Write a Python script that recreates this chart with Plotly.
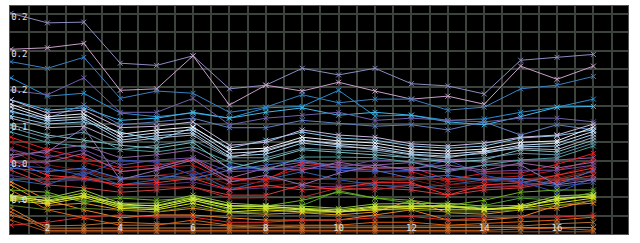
import plotly.graph_objects as go

x_vals = list(range(1, 18))

y_tick_vals = [0.246, 0.196, 0.146, 0.096, 0.046, -0.004]
y_tick_text = ["0.2", "0.2", "0.2", "0.1", "0.0", "0.0"]
x_tick_vals = [2, 4, 6, 8, 10, 12, 14, 16]

# bottom orange / brown lines
o7 = [-0.031] + [-0.047] * 16
o4 = [-0.020, -0.045, -0.045, -0.045, -0.046, -0.045, -0.045, -0.045, -0.045, -0.045, -0.045, -0.045, -0.045, -0.045, -0.043, -0.042, -0.045]
o3 = [-0.015] + [-0.042] * 15 + [-0.041]
o5 = [-0.024, -0.039, -0.038, -0.034, -0.036, -0.036, -0.039, -0.041, -0.039, -0.039, -0.039, -0.039, -0.039, -0.039, -0.039, -0.036, -0.034]
o2 = [0.010, -0.017, -0.028, -0.038, -0.038, -0.031, -0.038, -0.038, -0.038, -0.038, -0.034, -0.034, -0.038, -0.036, -0.034, -0.031, -0.027]
o1 = [0.021, -0.004, -0.017, -0.028, -0.024, -0.024, -0.028, -0.031, -0.031, -0.031, -0.024, -0.017, -0.031, -0.031, -0.027, -0.011, -0.008]
o6 = [0.017, -0.011, -0.008, -0.017, -0.020, -0.015, -0.021, -0.023, -0.021, -0.024, -0.020, -0.004, -0.021, -0.023, -0.017, -0.015, -0.004]
r7 = [-0.038, -0.034, -0.027, -0.024, -0.027, -0.027, -0.034, -0.034, -0.031, -0.031, -0.028, -0.026, -0.031, -0.028, -0.027, -0.027, -0.024]

# dark lines in the middle
d1 = [0.065, 0.037, 0.035, 0.024, 0.026, 0.030, 0.013, 0.015, 0.020, 0.018, 0.021, 0.024, 0.013, 0.017, 0.020, 0.026, 0.037]
d2 = [0.030, 0.021, 0.024, 0.017, 0.017, 0.021, 0.010, 0.013, 0.014, 0.015, 0.017, 0.017, 0.010, 0.013, 0.017, 0.020, 0.026]
d3 = [0.024, 0.017, 0.035, 0.017, 0.024, 0.037, 0.010, 0.024, 0.035, 0.024, 0.017, 0.013, 0.017, 0.024, 0.021, 0.015, 0.020]
d4 = [0.054, 0.065, 0.071, 0.054, 0.058, 0.065, 0.040, 0.040, 0.048, 0.044, 0.044, 0.048, 0.051, 0.048, 0.051, 0.051, 0.054]

# red lines
r6 = [0.067, 0.044, 0.037, 0.026, 0.030, 0.035, 0.017, 0.021, 0.026, 0.024, 0.026, 0.029, 0.017, 0.021, 0.024, 0.030, 0.044]
r5 = [0.037, 0.017, 0.013, 0.007, 0.010, 0.014, 0.003, 0.003, 0.017, 0.010, 0.013, 0.010, 0.003, 0.010, 0.013, 0.021, 0.030]
r4 = [0.044, 0.024, 0.030, 0.013, 0.014, 0.014, -0.001, -0.001, 0.000, 0.013, 0.010, 0.017, 0.010, 0.013, 0.015, 0.024, 0.035]
r3 = [0.051, 0.030, 0.026, 0.017, 0.020, 0.026, 0.010, 0.017, 0.010, 0.013, 0.020, 0.020, 0.003, 0.017, 0.020, 0.030, 0.040]
r2 = [0.075, 0.058, 0.048, 0.035, 0.040, 0.044, 0.021, 0.026, 0.040, 0.037, 0.035, 0.035, 0.021, 0.026, 0.029, 0.037, 0.051]
r1 = [0.082, 0.065, 0.054, 0.040, 0.044, 0.051, 0.026, 0.024, 0.047, 0.041, 0.040, 0.041, 0.024, 0.033, 0.033, 0.045, 0.060]

# mid blues and purples
b1 = [0.044, 0.040, 0.030, 0.051, 0.048, 0.030, 0.043, 0.037, 0.041, 0.037, 0.035, 0.037, 0.051, 0.030, 0.021, 0.007, 0.026]
b2 = [0.040, 0.035, 0.040, 0.026, 0.030, 0.026, 0.037, 0.044, 0.051, 0.040, 0.037, 0.026, 0.030, 0.024, 0.026, 0.017, 0.037]
p1 = [0.058, 0.062, 0.095, 0.024, 0.037, 0.051, 0.021, 0.030, 0.017, 0.033, 0.044, 0.037, 0.035, 0.044, 0.044, 0.017, 0.024]
p2 = [0.048, 0.048, 0.060, 0.035, 0.040, 0.054, 0.026, 0.040, 0.037, 0.048, 0.040, 0.040, 0.044, 0.037, 0.047, 0.040, 0.048]
p3 = [0.065, 0.054, 0.065, 0.044, 0.051, 0.054, 0.035, 0.037, 0.044, 0.040, 0.051, 0.048, 0.040, 0.035, 0.037, 0.037, 0.044]

# green / yellow bundle
g8 = [-0.011, -0.017, -0.015, -0.017, -0.020, -0.012, -0.021, -0.020, -0.017, -0.020, -0.017, -0.017, -0.020, -0.020, -0.017, -0.011, -0.004]
g6 = [-0.004, 0.003, -0.004, -0.011, -0.015, -0.004, -0.017, -0.011, -0.011, 0.009, -0.001, -0.008, -0.015, -0.011, -0.001, -0.004, 0.007]
g1 = [0.010, 0.007, -0.007, -0.001, -0.004, -0.001, -0.011, -0.012, -0.004, 0.007, -0.001, -0.004, -0.011, -0.004, 0.007, 0.010, 0.010]
g5 = [0.003, -0.001, 0.010, -0.008, -0.008, 0.003, -0.008, -0.011, -0.012, -0.015, -0.009, -0.008, -0.008, -0.012, -0.011, 0.002, 0.004]
g2 = [0.000, -0.004, 0.006, -0.011, -0.011, 0.000, -0.011, -0.013, -0.015, -0.017, -0.012, -0.011, -0.011, -0.015, -0.015, -0.001, 0.000]
g7 = [0.002, -0.005, 0.002, -0.009, -0.012, -0.002, -0.012, -0.012, -0.016, -0.019, -0.013, -0.012, -0.012, -0.016, -0.013, -0.002, 0.002]
g3 = [-0.001, -0.007, 0.003, -0.013, -0.015, -0.004, -0.015, -0.015, -0.017, -0.020, -0.015, -0.013, -0.013, -0.017, -0.012, -0.004, 0.003]
g4 = [-0.004, -0.009, 0.000, -0.015, -0.017, -0.008, -0.020, -0.017, -0.020, -0.020, -0.017, -0.015, -0.017, -0.017, -0.015, -0.008, -0.001]

# teal lines
t1 = [0.089, 0.075, 0.069, 0.065, 0.062, 0.069, 0.048, 0.037, 0.055, 0.055, 0.054, 0.048, 0.037, 0.044, 0.051, 0.054, 0.070]
t2 = [0.099, 0.085, 0.078, 0.071, 0.067, 0.075, 0.039, 0.051, 0.065, 0.062, 0.058, 0.054, 0.048, 0.051, 0.065, 0.062, 0.078]
t3 = [0.095, 0.081, 0.089, 0.065, 0.071, 0.078, 0.054, 0.054, 0.067, 0.065, 0.062, 0.054, 0.051, 0.054, 0.060, 0.058, 0.074]

# upper distinct lines
l1 = [0.251, 0.238, 0.239, 0.183, 0.180, 0.193, 0.148, 0.153, 0.176, 0.167, 0.176, 0.155, 0.152, 0.141, 0.187, 0.191, 0.195]
l2 = [0.202, 0.204, 0.210, 0.146, 0.148, 0.193, 0.126, 0.153, 0.145, 0.157, 0.145, 0.134, 0.138, 0.127, 0.179, 0.161, 0.179]
l3 = [0.185, 0.176, 0.191, 0.135, 0.145, 0.142, 0.116, 0.123, 0.140, 0.129, 0.134, 0.134, 0.119, 0.123, 0.148, 0.153, 0.165]
l4 = [0.163, 0.138, 0.142, 0.115, 0.110, 0.115, 0.108, 0.122, 0.124, 0.146, 0.111, 0.112, 0.105, 0.107, 0.116, 0.123, 0.134]
l5 = [0.133, 0.119, 0.122, 0.105, 0.108, 0.116, 0.108, 0.116, 0.122, 0.112, 0.116, 0.112, 0.103, 0.099, 0.110, 0.123, 0.124]
l6 = [0.146, 0.140, 0.163, 0.116, 0.116, 0.135, 0.099, 0.108, 0.112, 0.116, 0.105, 0.108, 0.105, 0.103, 0.108, 0.108, 0.103]
l7 = [0.116, 0.108, 0.126, 0.099, 0.103, 0.108, 0.095, 0.095, 0.105, 0.101, 0.097, 0.099, 0.092, 0.103, 0.085, 0.099, 0.092]

# white / light blue bundle
w6 = [0.108, 0.095, 0.097, 0.075, 0.081, 0.085, 0.054, 0.065, 0.078, 0.071, 0.065, 0.058, 0.054, 0.062, 0.067, 0.065, 0.082]
w5 = [0.111, 0.100, 0.103, 0.089, 0.078, 0.095, 0.067, 0.078, 0.089, 0.081, 0.078, 0.070, 0.067, 0.070, 0.081, 0.084, 0.092]
w3 = [0.118, 0.104, 0.107, 0.078, 0.084, 0.088, 0.056, 0.059, 0.074, 0.069, 0.067, 0.059, 0.056, 0.060, 0.069, 0.070, 0.086]
w4 = [0.133, 0.115, 0.119, 0.095, 0.097, 0.103, 0.071, 0.075, 0.092, 0.085, 0.082, 0.073, 0.070, 0.074, 0.082, 0.085, 0.100]
w2 = [0.123, 0.107, 0.110, 0.082, 0.088, 0.092, 0.060, 0.063, 0.078, 0.073, 0.070, 0.062, 0.059, 0.063, 0.071, 0.074, 0.090]
w1 = [0.127, 0.110, 0.114, 0.086, 0.092, 0.096, 0.065, 0.067, 0.082, 0.077, 0.074, 0.066, 0.063, 0.066, 0.075, 0.077, 0.096]

series = [
    (o7, "#a05020"), (o4, "#d06020"), (o3, "#c08040"), (o5, "#b07030"),
    (o2, "#e06010"), (o1, "#f08020"), (o6, "#e09030"), (r7, "#e03030"),
    (d1, "#682418"), (d2, "#583878"), (d3, "#3060b0"), (d4, "#9060a0"),
    (r6, "#801818"), (r5, "#d04040"), (r4, "#b03030"), (r3, "#ff3030"),
    (r2, "#c01818"), (r1, "#e82020"),
    (b1, "#3050c0"), (b2, "#4070d0"), (p1, "#9070b0"), (p2, "#a060a0"), (p3, "#7050a0"),
    (g8, "#608020"), (g6, "#50a030"), (g1, "#70b020"), (g5, "#90c040"),
    (g2, "#a8d020"), (g7, "#d8f050"), (g3, "#c8e030"), (g4, "#e0e020"),
    (t1, "#50a0a0"), (t2, "#80c0c0"), (t3, "#6890a8"),
    (l1, "#8c8cc0"), (l2, "#c8a0c8"), (l3, "#3a80c0"), (l4, "#2a90d0"),
    (l5, "#40b8e8"), (l6, "#7060a8"), (l7, "#6080c0"),
    (w6, "#b0b0c0"), (w5, "#88c8e8"), (w3, "#a0d0f0"), (w4, "#c8b8e0"),
    (w2, "#d0e0f8"), (w1, "#f0f0f8"),
]

fig = go.Figure()
for vals, col in series:
    fig.add_trace(go.Scatter(
        x=x_vals, y=vals, mode="lines+markers",
        line=dict(color=col, width=1),
        marker=dict(symbol="x-thin-open", size=5, color=col,
                    line=dict(color=col, width=1)),
        showlegend=False, hoverinfo="skip",
    ))

grid_col = "#3c423c"
tick_font = dict(family="DejaVu Sans Mono", size=9, color="#e0e0e0")

fig.update_layout(
    width=640, height=243,
    margin=dict(l=10, r=12, t=6, b=9),
    paper_bgcolor="white", plot_bgcolor="black",
    showlegend=False,
    xaxis=dict(
        range=[0.972, 17.95], tickmode="linear", tick0=0, dtick=2,
        ticklabelposition="inside", ticks="", tickfont=tick_font,
        showgrid=True, gridcolor=grid_col, gridwidth=1.5, zeroline=False,
        minor=dict(tickmode="linear", tick0=0, dtick=0.5, showgrid=True,
                   gridcolor=grid_col, gridwidth=1.5),
        showline=True, linecolor="#555555", linewidth=1, mirror=True,
    ),
    yaxis=dict(
        range=[-0.050, 0.261], tickmode="array", tickvals=y_tick_vals,
        ticktext=y_tick_text, ticklabelposition="inside", ticks="",
        tickfont=tick_font, showgrid=False, zeroline=False,
        minor=dict(tickmode="linear", tick0=0, dtick=0.025, showgrid=True,
                   gridcolor=grid_col, gridwidth=1.5),
        showline=True, linecolor="#555555", linewidth=1, mirror=True,
    ),
)

fig.write_html("out.html")
